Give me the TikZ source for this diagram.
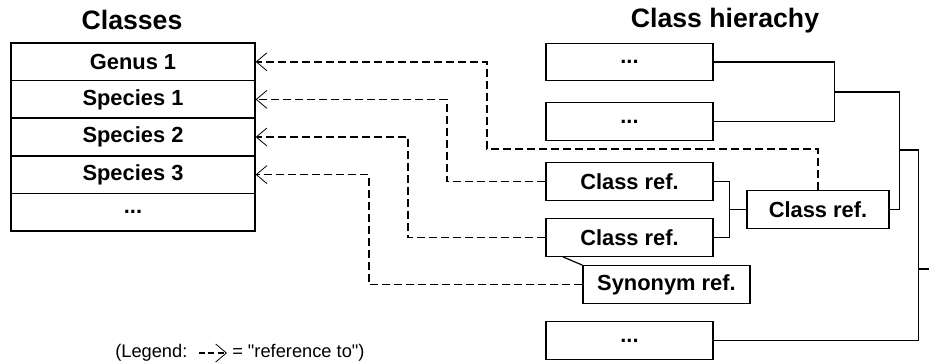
\documentclass[tikz,border=0pt]{standalone}
\usepackage{fontspec}
\setmainfont{Liberation Sans}
\usetikzlibrary{arrows.meta}
\begin{document}
\begin{tikzpicture}[x=0.75pt,y=-0.75pt,
  box/.style={draw,line width=1pt,inner sep=0pt,minimum width=#1*0.75pt,minimum height=37.5*0.75pt,
    font=\fontsize{16.4}{18}\selectfont\bfseries},
  box/.default=167,
  ttl/.style={font=\fontsize{20}{22}\selectfont\bfseries},
  conn/.style={line width=0.9pt},
  ref/.style={line width=1.3pt,dash pattern=on 6pt off 3pt,
    -{Straight Barb[length=8pt,width=13.5pt,line width=0.6pt]}},
  lgd/.style={font=\fontsize{13.7}{15}\selectfont}]
\useasboundingbox (0,0) rectangle (929,362);
% titles
\node[ttl] (t1) at (132,20) {Classes};
\node[ttl] (t2) at (725,21) {Class hierachy};
% classes table
\node[box=244] (genus) at (133,61.8) {Genus 1};
\node[box=244] (sp1) at (133,99.4) {Species 1};
\node[box=244] (sp2) at (133,137) {Species 2};
\node[box=244] (sp3) at (133,174.6) {Species 3};
\node[box=244] (dots) at (133,212.2) {...};
% hierarchy
\node[box] (b1) at (629.5,62) {...};
\node[box] (b2) at (629.5,121.5) {...};
\node[box] (cr1) at (629.5,181.5) {Class ref.};
\node[box] (cr2) at (629.5,237.5) {Class ref.};
\node[box=142] (cr3) at (818,209.5) {Class ref.};
\node[box] (syn) at (666.5,284.5) {Synonym ref.};
\node[box] (b5) at (629.5,340.5) {...};
% solid connectors
\draw[conn] (b1.east) -- ++(121,0) coordinate (j1) |- (b2.east);
\draw[conn] (j1) ++(0,30) coordinate (j1m) -- ++(65,0) coordinate (j2) |- (cr3.east);
\draw[conn] (j2) ++(0,58) coordinate (j2m) -- ++(19,0) coordinate (j3) |- (b5.east);
\draw[conn] (j3) ++(0,119) -- ++(11,0) coordinate (off);
\draw[conn] (cr1.east) -- ++(16,0) coordinate (k1) |- (cr2.east);
\draw[conn] (k1) ++(0,28) -- (cr3.west);
\draw[conn] ([xshift=-66.5*0.75pt]cr2.south) -- (syn.north west);
% dashed references
\draw[ref] (cr3.north) |- ++(-331,-41) |- (genus.east);
\draw[ref] (cr1.west) -- ++(-98,0) |- (sp1.east);
\draw[ref] (cr2.west) -- ++(-137,0) |- (sp2.east);
\draw[ref] (syn.west) -- ++(-213,0) |- (sp3.east);
% legend
\node[lgd,anchor=west,inner sep=0pt] (lg1) at (115,353) {(Legend:};
\node[lgd,anchor=west,inner sep=0pt] (lg2) at (232,353) {= \textquotedbl reference to\textquotedbl)};
\coordinate (la) at (199,353);
\coordinate (lb) at (227,353);
\draw[ref,line width=1.1pt,dash pattern=on 4.5pt off 2.5pt] (la) -- (lb);
\end{tikzpicture}
\end{document}
